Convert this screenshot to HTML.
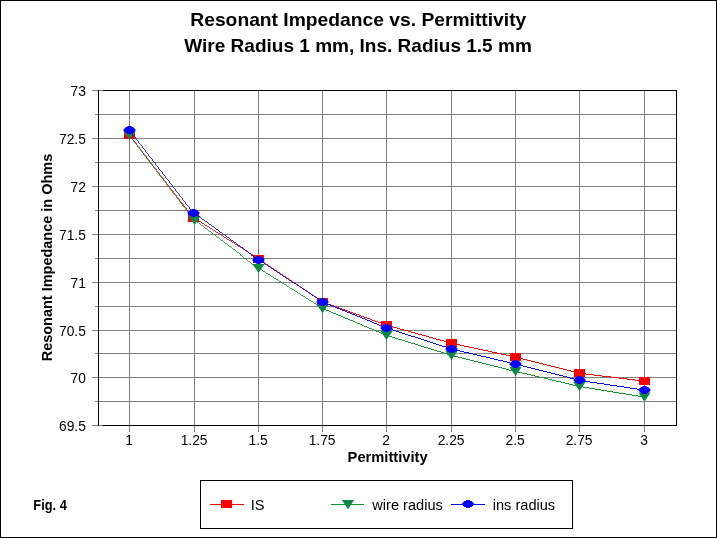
<!DOCTYPE html>
<html lang="en"><head><meta charset="utf-8"><title>Resonant Impedance vs. Permittivity</title>
<style>html,body{margin:0;padding:0;background:#fff}body{width:717px;height:538px;overflow:hidden}</style></head>
<body>
<svg width="717" height="538" viewBox="0 0 717 538" style="display:block;font-family:'Liberation Sans',Arial,sans-serif">
<rect x="0" y="0" width="717" height="538" fill="#fff"/>
<rect x="0.5" y="0.5" width="716" height="537" fill="none" stroke="#000" stroke-width="1"/>
<g shape-rendering="crispEdges" stroke="#808080" stroke-width="1">
<line x1="92" y1="90.5" x2="676" y2="90.5"/>
<line x1="95" y1="114.5" x2="676" y2="114.5"/>
<line x1="92" y1="138.5" x2="676" y2="138.5"/>
<line x1="95" y1="162.5" x2="676" y2="162.5"/>
<line x1="92" y1="186.5" x2="676" y2="186.5"/>
<line x1="95" y1="210.5" x2="676" y2="210.5"/>
<line x1="92" y1="234.5" x2="676" y2="234.5"/>
<line x1="95" y1="258.5" x2="676" y2="258.5"/>
<line x1="92" y1="282.5" x2="676" y2="282.5"/>
<line x1="95" y1="306.5" x2="676" y2="306.5"/>
<line x1="92" y1="330.5" x2="676" y2="330.5"/>
<line x1="95" y1="353.5" x2="676" y2="353.5"/>
<line x1="92" y1="377.5" x2="676" y2="377.5"/>
<line x1="95" y1="401.5" x2="676" y2="401.5"/>
<line x1="92" y1="425.5" x2="676" y2="425.5"/>
<line x1="129.5" y1="90" x2="129.5" y2="432"/>
<line x1="194.5" y1="90" x2="194.5" y2="432"/>
<line x1="258.5" y1="90" x2="258.5" y2="432"/>
<line x1="322.5" y1="90" x2="322.5" y2="432"/>
<line x1="386.5" y1="90" x2="386.5" y2="432"/>
<line x1="451.5" y1="90" x2="451.5" y2="432"/>
<line x1="515.5" y1="90" x2="515.5" y2="432"/>
<line x1="579.5" y1="90" x2="579.5" y2="432"/>
<line x1="644.5" y1="90" x2="644.5" y2="432"/>
</g>
<g shape-rendering="crispEdges" stroke="#000" stroke-width="1">
<line x1="98.5" y1="90" x2="98.5" y2="426"/>
<line x1="676.5" y1="90" x2="676.5" y2="426"/>
<line x1="103" y1="90.5" x2="677" y2="90.5"/>
<line x1="103" y1="425.5" x2="677" y2="425.5"/>
</g>
<g stroke="#ff0000" fill="none" shape-rendering="crispEdges">
<line x1="129.50" y1="135.05" x2="193.50" y2="218.05" stroke-width="0.79"/>
<line x1="193.50" y1="218.05" x2="258.50" y2="259.35" stroke-width="0.84"/>
<line x1="258.50" y1="259.35" x2="322.50" y2="302.25" stroke-width="0.83"/>
<line x1="322.50" y1="302.25" x2="386.50" y2="325.45" stroke-width="0.94"/>
<line x1="386.50" y1="325.45" x2="451.50" y2="343.45" stroke-width="0.96"/>
<line x1="451.50" y1="343.45" x2="515.50" y2="357.25" stroke-width="0.98"/>
<line x1="515.50" y1="357.25" x2="579.50" y2="373.35" stroke-width="0.97"/>
<line x1="579.50" y1="373.35" x2="644.50" y2="381.25" stroke-width="0.99"/>
</g>
<rect x="124.0" y="131.0" width="11" height="8" fill="#ff0000" shape-rendering="crispEdges"/>
<rect x="188.0" y="214.0" width="11" height="8" fill="#ff0000" shape-rendering="crispEdges"/>
<rect x="253.0" y="255.0" width="11" height="8" fill="#ff0000" shape-rendering="crispEdges"/>
<rect x="317.0" y="298.0" width="11" height="8" fill="#ff0000" shape-rendering="crispEdges"/>
<rect x="381.0" y="321.0" width="11" height="8" fill="#ff0000" shape-rendering="crispEdges"/>
<rect x="446.0" y="339.0" width="11" height="8" fill="#ff0000" shape-rendering="crispEdges"/>
<rect x="510.0" y="353.0" width="11" height="8" fill="#ff0000" shape-rendering="crispEdges"/>
<rect x="574.0" y="369.0" width="11" height="8" fill="#ff0000" shape-rendering="crispEdges"/>
<rect x="639.0" y="377.0" width="11" height="8" fill="#ff0000" shape-rendering="crispEdges"/>
<g stroke="#10962e" fill="none" shape-rendering="crispEdges">
<line x1="129.50" y1="135.65" x2="194.50" y2="220.65" stroke-width="0.79"/>
<line x1="194.50" y1="220.65" x2="258.50" y2="268.65" stroke-width="0.80"/>
<line x1="258.50" y1="268.65" x2="322.50" y2="308.85" stroke-width="0.85"/>
<line x1="322.50" y1="308.85" x2="386.50" y2="335.65" stroke-width="0.92"/>
<line x1="386.50" y1="335.65" x2="451.50" y2="355.65" stroke-width="0.96"/>
<line x1="451.50" y1="355.65" x2="515.50" y2="371.65" stroke-width="0.97"/>
<line x1="515.50" y1="371.65" x2="579.50" y2="386.65" stroke-width="0.97"/>
<line x1="579.50" y1="386.65" x2="644.50" y2="397.25" stroke-width="0.99"/>
</g>
<polygon points="123.4,130.9 135.6,130.9 129.5,140.1" fill="#0f8846"/>
<polygon points="188.4,215.9 200.6,215.9 194.5,225.1" fill="#0f8846"/>
<polygon points="252.4,263.9 264.6,263.9 258.5,273.1" fill="#0f8846"/>
<polygon points="316.4,304.1 328.6,304.1 322.5,313.3" fill="#0f8846"/>
<polygon points="380.4,330.9 392.6,330.9 386.5,340.1" fill="#0f8846"/>
<polygon points="445.4,350.9 457.6,350.9 451.5,360.1" fill="#0f8846"/>
<polygon points="509.4,366.9 521.6,366.9 515.5,376.1" fill="#0f8846"/>
<polygon points="573.4,381.9 585.6,381.9 579.5,391.1" fill="#0f8846"/>
<polygon points="638.4,392.5 650.6,392.5 644.5,401.7" fill="#0f8846"/>
<g stroke="#0000ff" fill="none" shape-rendering="crispEdges">
<line x1="129.50" y1="130.25" x2="193.50" y2="213.25" stroke-width="0.79"/>
<line x1="193.50" y1="213.25" x2="258.50" y2="260.25" stroke-width="0.81"/>
<line x1="258.50" y1="260.25" x2="322.50" y2="302.45" stroke-width="0.83"/>
<line x1="322.50" y1="302.45" x2="386.50" y2="328.25" stroke-width="0.93"/>
<line x1="386.50" y1="328.25" x2="451.50" y2="349.25" stroke-width="0.95"/>
<line x1="451.50" y1="349.25" x2="515.50" y2="364.25" stroke-width="0.97"/>
<line x1="515.50" y1="364.25" x2="579.50" y2="380.55" stroke-width="0.97"/>
<line x1="579.50" y1="380.55" x2="644.50" y2="390.25" stroke-width="0.99"/>
</g>
<path d="M127.4,126.0h4.2v1h-4.2zM125.5,127.0h8.0v1h-8.0zM124.5,128.0h10.0v1h-10.0zM123.6,129.0h11.8v1h-11.8zM123.6,130.0h11.8v1h-11.8zM124.5,131.0h10.0v1h-10.0zM125.5,132.0h8.0v1h-8.0zM127.4,133.0h4.2v1h-4.2z" fill="#0000ff"/>
<path d="M191.4,209.0h4.2v1h-4.2zM189.5,210.0h8.0v1h-8.0zM188.5,211.0h10.0v1h-10.0zM187.6,212.0h11.8v1h-11.8zM187.6,213.0h11.8v1h-11.8zM188.5,214.0h10.0v1h-10.0zM189.5,215.0h8.0v1h-8.0zM191.4,216.0h4.2v1h-4.2z" fill="#0000ff"/>
<path d="M256.4,256.0h4.2v1h-4.2zM254.5,257.0h8.0v1h-8.0zM253.5,258.0h10.0v1h-10.0zM252.6,259.0h11.8v1h-11.8zM252.6,260.0h11.8v1h-11.8zM253.5,261.0h10.0v1h-10.0zM254.5,262.0h8.0v1h-8.0zM256.4,263.0h4.2v1h-4.2z" fill="#0000ff"/>
<path d="M320.4,298.0h4.2v1h-4.2zM318.5,299.0h8.0v1h-8.0zM317.5,300.0h10.0v1h-10.0zM316.6,301.0h11.8v1h-11.8zM316.6,302.0h11.8v1h-11.8zM317.5,303.0h10.0v1h-10.0zM318.5,304.0h8.0v1h-8.0zM320.4,305.0h4.2v1h-4.2z" fill="#0000ff"/>
<path d="M384.4,324.0h4.2v1h-4.2zM382.5,325.0h8.0v1h-8.0zM381.5,326.0h10.0v1h-10.0zM380.6,327.0h11.8v1h-11.8zM380.6,328.0h11.8v1h-11.8zM381.5,329.0h10.0v1h-10.0zM382.5,330.0h8.0v1h-8.0zM384.4,331.0h4.2v1h-4.2z" fill="#0000ff"/>
<path d="M449.4,345.0h4.2v1h-4.2zM447.5,346.0h8.0v1h-8.0zM446.5,347.0h10.0v1h-10.0zM445.6,348.0h11.8v1h-11.8zM445.6,349.0h11.8v1h-11.8zM446.5,350.0h10.0v1h-10.0zM447.5,351.0h8.0v1h-8.0zM449.4,352.0h4.2v1h-4.2z" fill="#0000ff"/>
<path d="M513.4,360.0h4.2v1h-4.2zM511.5,361.0h8.0v1h-8.0zM510.5,362.0h10.0v1h-10.0zM509.6,363.0h11.8v1h-11.8zM509.6,364.0h11.8v1h-11.8zM510.5,365.0h10.0v1h-10.0zM511.5,366.0h8.0v1h-8.0zM513.4,367.0h4.2v1h-4.2z" fill="#0000ff"/>
<path d="M577.4,376.0h4.2v1h-4.2zM575.5,377.0h8.0v1h-8.0zM574.5,378.0h10.0v1h-10.0zM573.6,379.0h11.8v1h-11.8zM573.6,380.0h11.8v1h-11.8zM574.5,381.0h10.0v1h-10.0zM575.5,382.0h8.0v1h-8.0zM577.4,383.0h4.2v1h-4.2z" fill="#0000ff"/>
<path d="M642.4,386.0h4.2v1h-4.2zM640.5,387.0h8.0v1h-8.0zM639.5,388.0h10.0v1h-10.0zM638.6,389.0h11.8v1h-11.8zM638.6,390.0h11.8v1h-11.8zM639.5,391.0h10.0v1h-10.0zM640.5,392.0h8.0v1h-8.0zM642.4,393.0h4.2v1h-4.2z" fill="#0000ff"/>
<g font-weight="bold" font-size="19px" fill="#000">
<text x="190.3" y="25.7" textLength="336" lengthAdjust="spacingAndGlyphs">Resonant Impedance vs. Permittivity</text>
<text x="184.3" y="51.7" textLength="347.5" lengthAdjust="spacingAndGlyphs">Wire Radius 1 mm, Ins. Radius 1.5 mm</text>
</g>
<g font-size="15.3px" fill="#000" text-anchor="end">
<text transform="translate(85.9,96.1) scale(0.905,1)">73</text>
<text transform="translate(85.9,144.1) scale(0.905,1)">72.5</text>
<text transform="translate(85.9,192.1) scale(0.905,1)">72</text>
<text transform="translate(85.9,240.1) scale(0.905,1)">71.5</text>
<text transform="translate(85.9,288.1) scale(0.905,1)">71</text>
<text transform="translate(85.9,336.1) scale(0.905,1)">70.5</text>
<text transform="translate(85.9,383.1) scale(0.905,1)">70</text>
<text transform="translate(85.9,431.1) scale(0.905,1)">69.5</text>
</g>
<g font-size="15.3px" fill="#000" text-anchor="middle">
<text transform="translate(129.1,445.3) scale(0.905,1)">1</text>
<text transform="translate(194.1,445.3) scale(0.905,1)">1.25</text>
<text transform="translate(258.1,445.3) scale(0.905,1)">1.5</text>
<text transform="translate(322.1,445.3) scale(0.905,1)">1.75</text>
<text transform="translate(386.1,445.3) scale(0.905,1)">2</text>
<text transform="translate(451.1,445.3) scale(0.905,1)">2.25</text>
<text transform="translate(515.1,445.3) scale(0.905,1)">2.5</text>
<text transform="translate(579.1,445.3) scale(0.905,1)">2.75</text>
<text transform="translate(644.1,445.3) scale(0.905,1)">3</text>
</g>
<text x="347.6" y="461.5" font-weight="bold" font-size="14.4px" textLength="80" lengthAdjust="spacingAndGlyphs">Permittivity</text>
<text transform="translate(52.3,361.3) rotate(-90)" font-weight="bold" font-size="14.4px" textLength="207.5" lengthAdjust="spacingAndGlyphs">Resonant Impedance in Ohms</text>
<text x="33.3" y="509.6" font-weight="bold" font-size="14.3px" textLength="33.5" lengthAdjust="spacingAndGlyphs">Fig. 4</text>
<rect x="200.5" y="480.5" width="372" height="48" fill="#fff" stroke="#000" stroke-width="1" shape-rendering="crispEdges"/>
<line x1="210.0" y1="504.5" x2="244.0" y2="504.5" stroke="#ff0000" stroke-width="1" shape-rendering="crispEdges"/>
<rect x="221.0" y="500.0" width="11" height="8" fill="#ff0000" shape-rendering="crispEdges"/>
<text transform="translate(250.8,510.4) scale(0.955,1)" font-size="15.3px" fill="#000">IS</text>
<line x1="331.0" y1="504.5" x2="364.0" y2="504.5" stroke="#10962e" stroke-width="1" shape-rendering="crispEdges"/>
<polygon points="341.9,500.0 354.1,500.0 348.0,509.2" fill="#0f8846"/>
<text transform="translate(372.3,510.4) scale(0.955,1)" font-size="15.3px" fill="#000">wire radius</text>
<line x1="451.0" y1="504.5" x2="485.0" y2="504.5" stroke="#0000ff" stroke-width="1" shape-rendering="crispEdges"/>
<path d="M465.9,500.0h4.2v1h-4.2zM464.0,501.0h8.0v1h-8.0zM463.0,502.0h10.0v1h-10.0zM462.1,503.0h11.8v1h-11.8zM462.1,504.0h11.8v1h-11.8zM463.0,505.0h10.0v1h-10.0zM464.0,506.0h8.0v1h-8.0zM465.9,507.0h4.2v1h-4.2z" fill="#0000ff"/>
<text transform="translate(492.7,510.4) scale(0.955,1)" font-size="15.3px" fill="#000">ins radius</text>
</svg>
</body></html>
